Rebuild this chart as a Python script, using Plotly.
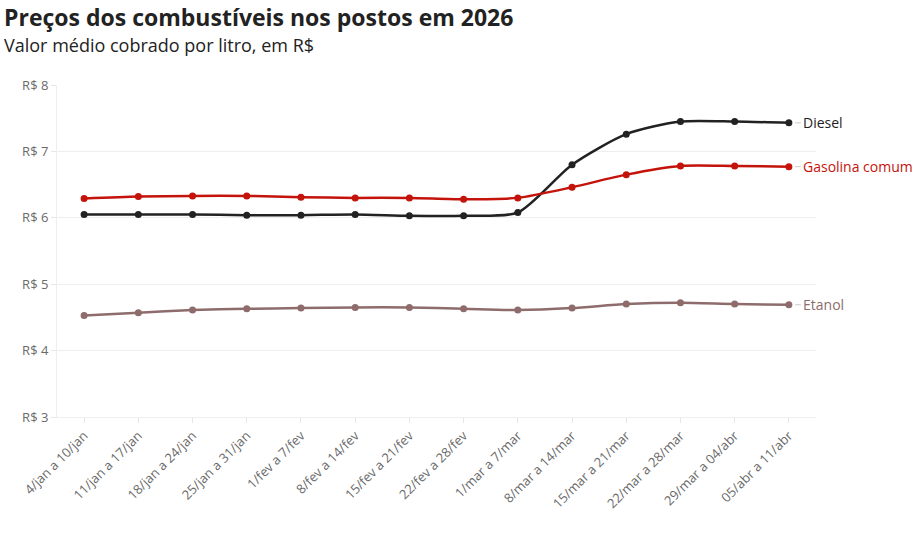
import plotly.graph_objects as go

semanas = ["4/jan a 10/jan", "11/jan a 17/jan", "18/jan a 24/jan", "25/jan a 31/jan",
           "1/fev a 7/fev", "8/fev a 14/fev", "15/fev a 21/fev", "22/fev a 28/fev",
           "1/mar a 7/mar", "8/mar a 14/mar", "15/mar a 21/mar", "22/mar a 28/mar",
           "29/mar a 04/abr", "05/abr a 11/abr"]

diesel = [6.05, 6.05, 6.05, 6.04, 6.04, 6.05, 6.03, 6.03, 6.08, 6.80, 7.26, 7.45, 7.45, 7.43]
gasolina = [6.29, 6.32, 6.33, 6.33, 6.31, 6.30, 6.30, 6.28, 6.30, 6.46, 6.65, 6.78, 6.78, 6.77]
etanol = [4.53, 4.57, 4.61, 4.63, 4.64, 4.65, 4.65, 4.63, 4.61, 4.64, 4.70, 4.72, 4.70, 4.69]

series = [
    ("Diesel", diesel, "#222222"),
    ("Gasolina comum", gasolina, "#c4130b"),
    ("Etanol", etanol, "#8e6c6c"),
]

yticks = [3, 4, 5, 6, 7, 8]
yticklabels = ["R$ 3", "R$ 4", "R$ 5", "R$ 6", "R$ 7", "R$ 8"]

titulo = "Preços dos combustíveis nos postos em 2026"
subtitulo = "Valor médio cobrado por litro, em R$"

fig = go.Figure()
x_idx = list(range(len(semanas)))
for name, vals, color in series:
    fig.add_trace(go.Scatter(
        x=x_idx, y=vals, name=name, mode="lines+markers",
        line=dict(color=color, width=2.5, shape="spline", smoothing=0.7),
        marker=dict(color=color, size=7),
        hovertemplate="%{y:.2f}<extra>" + name + "</extra>",
    ))
    fig.add_annotation(
        x=x_idx[-1], y=vals[-1], text=name, showarrow=True,
        arrowhead=0, arrowwidth=1, arrowcolor="#cccccc",
        ax=12, ay=0, standoff=6, xanchor="left",
        font=dict(family="Open Sans", size=14, color=color),
    )

fig.add_annotation(
    xref="paper", yref="paper", x=-0.0725, y=1.205, xanchor="left", yanchor="middle",
    text="<b>" + titulo + "</b>", showarrow=False,
    font=dict(family="Open Sans", size=23, color="#222222"),
)
fig.add_annotation(
    xref="paper", yref="paper", x=-0.0725, y=1.12, xanchor="left", yanchor="middle",
    text=subtitulo, showarrow=False,
    font=dict(family="Open Sans", size=18, color="#222222"),
)

fig.update_layout(
    width=920, height=533,
    margin=dict(l=57, r=104, t=85, b=116, autoexpand=False),
    paper_bgcolor="white", plot_bgcolor="white",
    showlegend=False,
    font=dict(family="Open Sans", color="#666666"),
)
tick_font = dict(family="Open Sans", size=13, color="#6a6a6a")
fig.update_xaxes(
    range=[-0.5, len(semanas) - 0.5], automargin=False,
    tickmode="array", tickvals=x_idx, ticktext=semanas,
    tickangle=-45, ticks="outside", ticklen=5, tickcolor="#e6e6e6",
    showgrid=False, showline=True, linecolor="#eeeeee", zeroline=False,
    tickfont=tick_font,
)
fig.update_yaxes(
    range=[3, 8], automargin=False, tickmode="array", tickvals=yticks, ticktext=yticklabels,
    ticks="outside", ticklen=5, tickcolor="#e6e6e6",
    showgrid=True, gridcolor="#eeeeee", showline=True, linecolor="#eeeeee",
    zeroline=False,
    tickfont=tick_font,
)

fig.write_html("out.html", config={"displayModeBar": False},
               post_script="document.body.style.margin='0px';")
